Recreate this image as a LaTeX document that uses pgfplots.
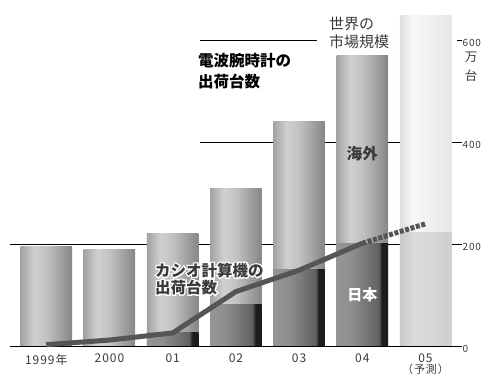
\documentclass[border=0pt]{standalone}
\usepackage{fontspec}
\setmainfont{Noto Sans CJK JP}
\newfontfamily\tickfont[LetterSpace=8]{Noto Sans CJK JP}
\usepackage{pgfplots}
\pgfplotsset{compat=1.18}
\definecolor{ovA}{HTML}{A2A2A2}
\definecolor{ovB}{HTML}{D0D0D0}
\definecolor{ovC}{HTML}{C2C2C2}
\definecolor{ovD}{HTML}{8A8A8A}
\definecolor{jpA}{HTML}{959595}
\definecolor{jpB}{HTML}{8E8E8E}
\definecolor{jpC}{HTML}{606060}
\definecolor{jpD}{HTML}{1C1C1C}
\definecolor{fuA}{HTML}{DEDEDE}
\definecolor{fuB}{HTML}{F8F8F8}
\definecolor{fuC}{HTML}{E6E6E6}
\definecolor{flA}{HTML}{C8C8C8}
\definecolor{flB}{HTML}{DCDCDC}
\definecolor{flC}{HTML}{CFCFCF}
\definecolor{linec}{HTML}{555555}
\definecolor{txt}{HTML}{3A3A3A}
\pgfdeclarehorizontalshading{overseas}{100bp}{color(0bp)=(ovA); color(25bp)=(ovA); color(38bp)=(ovB); color(50bp)=(ovC); color(73bp)=(ovD); color(75bp)=(ovD); color(100bp)=(ovD)}
\pgfdeclarehorizontalshading{japan}{100bp}{color(0bp)=(jpA); color(25bp)=(jpA); color(40bp)=(jpB); color(66bp)=(jpC); color(69bp)=(jpD); color(75bp)=(jpD); color(100bp)=(jpD)}
\pgfdeclarehorizontalshading{fcupper}{100bp}{color(0bp)=(fuA); color(25bp)=(fuA); color(37bp)=(fuB); color(75bp)=(fuC); color(100bp)=(fuC)}
\pgfdeclarehorizontalshading{fclower}{100bp}{color(0bp)=(flA); color(25bp)=(flA); color(38bp)=(flB); color(75bp)=(flC); color(100bp)=(flC)}
\newcommand{\casio}{カシオ計算機の\\出荷台数}
\newcommand{\halo}[1]{\special{pdf:literal direct 2 Tr 2.6 w 1 1 1 RG 1 1 1 rg}#1\special{pdf:literal direct 0 Tr}}
\pgfplotsset{
  barbase/.style={ybar, bar width=0.815, bar shift=0pt, draw=none, shade},
  ovbar/.style={barbase, shading=overseas},
  jpbar/.style={barbase, shading=japan},
}
\begin{document}
\begin{tikzpicture}
\begin{axis}[
  at={(0,0)}, anchor=south west,
  scale only axis, width=447bp, height=346.7bp,
  xmin=-0.574, xmax=6.498, ymin=0, ymax=680,
  clip=false,
  axis line style={draw=none},
  xtick={0,1,2,3,4,5,6},
  xticklabels={1999年,2000,01,02,03,04,{05\\[-1bp]{\fontsize{11bp}{12bp}\selectfont （予測）}}},
  xtick style={draw=none},
  xticklabel style={align=center, text=txt, font=\tickfont\fontsize{12bp}{12bp}\selectfont, inner sep=1bp, yshift=-1bp},
  ytick={0,200,400,600},
  ytick pos=right, yticklabel pos=right,
  major tick length=5bp, tick align=outside,
  ytick style={draw=black, line width=0.9bp},
  yticklabel style={text=txt, font=\tickfont\fontsize{10bp}{10bp}\selectfont, inner sep=0.5bp, yshift=-2bp},
  /pgf/number format/assume math mode=true,
]
% reference lines (behind bars)
\draw[line width=1.1bp] (axis cs:-0.574,200) -- (axis cs:6.498,200);
\draw[line width=1.1bp] (axis cs:2.43,400) -- (axis cs:6.498,400);
\draw[line width=1.1bp] (axis cs:2.43,600) -- (axis cs:4.28,600);
% bars: world market totals (overseas shading), one plot per bar
\addplot[ovbar] coordinates {(0,197)};
\addplot[ovbar] coordinates {(1,191)};
\addplot[ovbar] coordinates {(2,222)};
\addplot[ovbar] coordinates {(3,311)};
\addplot[ovbar] coordinates {(4,441)};
\addplot[ovbar] coordinates {(5,572)};
\addplot[barbase, shading=fcupper] coordinates {(6,650)};
% Japan part
\addplot[jpbar] coordinates {(2,27)};
\addplot[jpbar] coordinates {(3,83)};
\addplot[jpbar] coordinates {(4,152)};
\addplot[jpbar] coordinates {(5,203)};
\addplot[barbase, shading=fclower] coordinates {(6,224)};
% baseline
\draw[line width=1.2bp] (axis cs:-0.574,0) -- (axis cs:6.498,0);
% Casio shipments
\addplot[line width=5bp, color=linec, line join=round]
  coordinates {(0,4) (1,13) (2,27) (3,108) (4,150) (5,203)};
\addplot[line width=5bp, color=linec, dash pattern=on 4bp off 1.6bp]
  coordinates {(5,203) (6,241)};
% annotations
\node[anchor=base west, align=left, inner sep=0, text=black, font=\bfseries\fontsize{15.5bp}{21bp}\selectfont] at (axis cs:2.40,509) {電波腕時計の\\出荷台数};
\node[anchor=base west, align=left, inner sep=0, text=txt, font=\fontsize{15bp}{18bp}\selectfont] at (axis cs:4.47,586) {世界の\\市場規模};
\node[anchor=center, inner sep=0, text=txt, font=\bfseries\fontsize{15.5bp}{16bp}\selectfont] at (axis cs:5,379) {海外};
\node[anchor=center, inner sep=0, text=white, font=\bfseries\fontsize{15bp}{16bp}\selectfont] at (axis cs:5,101) {日本};
\node[anchor=center, inner sep=0, text=txt, font=\fontsize{12.5bp}{19bp}\selectfont, align=center] at (axis cs:6.72,549) {万\\台};
\node[anchor=base west, align=left, inner sep=0, text=white, font=\bfseries\fontsize{15.5bp}{17bp}\selectfont] at (axis cs:1.72,105) {\halo{カシオ計算機の}\\\halo{出荷台数}};
\node[anchor=base west, align=left, inner sep=0, text=txt, font=\bfseries\fontsize{15.5bp}{17bp}\selectfont] at (axis cs:1.72,105) {\casio};
\end{axis}
\pgfresetboundingbox
\path[use as bounding box] (-10bp,-29.3bp) rectangle (478bp,346.7bp);
\end{tikzpicture}
\end{document}
